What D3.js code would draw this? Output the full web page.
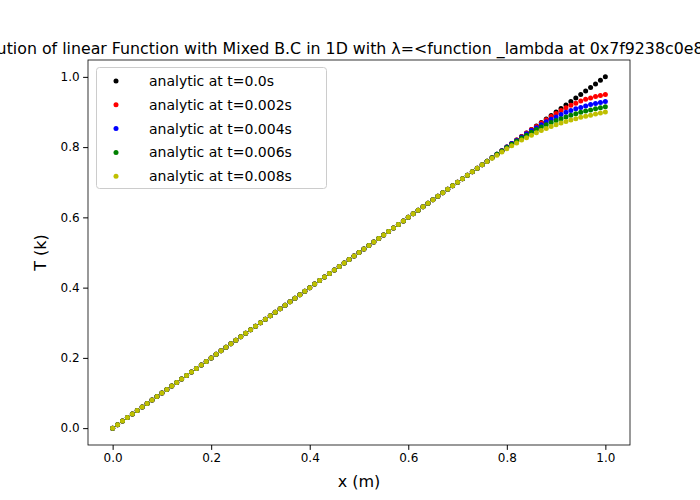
<!DOCTYPE html>
<html><head><meta charset="utf-8">
<script src="https://cdn.jsdelivr.net/npm/d3@7"></script>
<style>body{margin:0;background:#fff}text{font-family:"DejaVu Sans",sans-serif}</style>
</head><body><svg id="c" width="700" height="500"></svg>
<script>
const xValues = [0,0.01,0.02,0.03,0.04,0.05,0.06,0.07,0.08,0.09,0.1,0.11,0.12,0.13,0.14,0.15,0.16,0.17,0.18,0.19,0.2,0.21,0.22,0.23,0.24,0.25,0.26,0.27,0.28,0.29,0.3,0.31,0.32,0.33,0.34,0.35,0.36,0.37,0.38,0.39,0.4,0.41,0.42,0.43,0.44,0.45,0.46,0.47,0.48,0.49,0.5,0.51,0.52,0.53,0.54,0.55,0.56,0.57,0.58,0.59,0.6,0.61,0.62,0.63,0.64,0.65,0.66,0.67,0.68,0.69,0.7,0.71,0.72,0.73,0.74,0.75,0.76,0.77,0.78,0.79,0.8,0.81,0.82,0.83,0.84,0.85,0.86,0.87,0.88,0.89,0.9,0.91,0.92,0.93,0.94,0.95,0.96,0.97,0.98,0.99,1];
// initial profile t=0
const t0 = [0,0.01,0.02,0.03,0.04,0.05,0.06,0.07,0.08,0.09,0.1,0.11,0.12,0.13,0.14,0.15,0.16,0.17,0.18,0.19,0.2,0.21,0.22,0.23,0.24,0.25,0.26,0.27,0.28,0.29,0.3,0.31,0.32,0.33,0.34,0.35,0.36,0.37,0.38,0.39,0.4,0.41,0.42,0.43,0.44,0.45,0.46,0.47,0.48,0.49,0.5,0.51,0.52,0.53,0.54,0.55,0.56,0.57,0.58,0.59,0.6,0.61,0.62,0.63,0.64,0.65,0.66,0.67,0.68,0.69,0.7,0.71,0.72,0.73,0.74,0.75,0.76,0.77,0.78,0.79,0.8,0.81,0.82,0.83,0.84,0.85,0.86,0.87,0.88,0.89,0.9,0.91,0.92,0.93,0.94,0.95,0.96,0.97,0.98,0.99,1];
// tails (values at the right end, where profiles differ from t=0)
const t002Tail = [0.859,0.869,0.878,0.887,0.896,0.904,0.912,0.919,0.925,0.931,0.936,0.940,0.944,0.947,0.950];
const t004Tail = [0.819,0.829,0.838,0.847,0.855,0.864,0.872,0.879,0.886,0.893,0.899,0.904,0.909,0.913,0.917,0.921,0.924,0.927,0.930];
const t006Tail = [0.789,0.799,0.808,0.817,0.826,0.834,0.842,0.850,0.857,0.864,0.870,0.876,0.881,0.886,0.891,0.895,0.899,0.903,0.906,0.909,0.912,0.915];
const t008Tail = [0.759,0.768,0.777,0.786,0.795,0.804,0.812,0.820,0.827,0.834,0.841,0.847,0.853,0.859,0.864,0.869,0.873,0.877,0.881,0.885,0.888,0.891,0.894,0.897,0.900];
const seriesLabels = ["analytic at t=0.0s","analytic at t=0.002s","analytic at t=0.004s","analytic at t=0.006s","analytic at t=0.008s"];
const seriesColors = ["#000000","#ff0000","#0000ff","#008000","#bfbf00"];
const xTicks = [0,0.2,0.4,0.6,0.8,1.0];
const yTicks = [0,0.2,0.4,0.6,0.8,1.0];
const withTail = tail => t0.slice(0, t0.length - tail.length).concat(tail);
const series = [t0, withTail(t002Tail), withTail(t004Tail), withTail(t006Tail), withTail(t008Tail)];

const svg = d3.select("#c");
const L=88,R=630,T=60,B=445;
const x = d3.scaleLinear().domain([-0.05,1.05]).range([L,R]);
const y = d3.scaleLinear().domain([-0.048,1.048]).range([B,T]);

svg.append("g").attr("transform",`translate(0,${B})`).call(d3.axisBottom(x).tickValues(xTicks).tickFormat(d3.format(".1f")).tickSize(4.9).tickPadding(3.5))
  .call(g=>{g.select(".domain").remove();g.selectAll("text").attr("font-size",12).attr("fill","#000");});
svg.append("g").attr("transform",`translate(${L},0)`).call(d3.axisLeft(y).tickValues(yTicks).tickFormat(d3.format(".1f")).tickSize(4.9).tickPadding(3.5))
  .call(g=>{g.select(".domain").remove();g.selectAll("text").attr("font-size",12).attr("fill","#000");});

series.forEach((s,i)=>{
  svg.append("g").selectAll("circle").data(s).join("circle")
    .attr("cx",(d,j)=>x(xValues[j])).attr("cy",d=>y(d)).attr("r",2.5).attr("fill",seriesColors[i]);
});
svg.append("rect").attr("x",L).attr("y",T).attr("width",R-L).attr("height",B-T).attr("fill","none").attr("stroke","#000").attr("stroke-width",0.8);

svg.append("text").attr("x",350).attr("y",54).attr("text-anchor","middle").attr("font-size",15.8)
  .text("Evolution of linear Function with Mixed B.C in 1D with λ=<function _lambda at 0x7f9238c0e8b0>");
svg.append("text").attr("x",(L+R)/2).attr("y",487).attr("text-anchor","middle").attr("font-size",16).text("x (m)");
svg.append("text").attr("transform",`translate(46,${(T+B)/2}) rotate(-90)`).attr("text-anchor","middle").attr("font-size",16).text("T (k)");

const lg = svg.append("g");
lg.append("rect").attr("x",96.5).attr("y",67.5).attr("width",230).attr("height",121).attr("rx",3).attr("fill","#fff").attr("fill-opacity",0.8).attr("stroke","#ccc");
seriesLabels.forEach((t,i)=>{
  const yy = 81 + i*23.8;
  lg.append("circle").attr("cx",116).attr("cy",yy).attr("r",2.5).attr("fill",seriesColors[i]);
  lg.append("text").attr("x",149).attr("y",yy+5).attr("font-size",14).text(t);
});
</script></body></html>
